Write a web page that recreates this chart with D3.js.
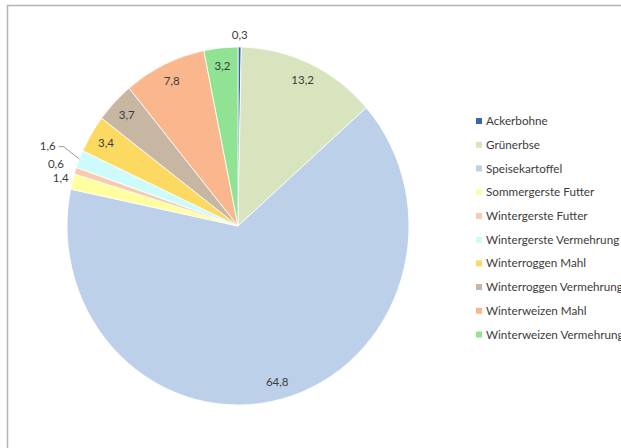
<!DOCTYPE html>
<html>
<head>
<meta charset="utf-8">
<script src="https://cdn.jsdelivr.net/npm/d3@7"></script>
<style>
  html, body { margin: 0; padding: 0; background: #fff; }
  svg { display: block; }
  text { font-family: Lato, "Open Sans", sans-serif; fill: #3c3c3c; }
</style>
</head>
<body>
<svg id="chart" width="621" height="448"></svg>
<script>
// Anbauanteile in Prozent
const categories = [
  "Ackerbohne", "Grünerbse", "Speisekartoffel", "Sommergerste Futter",
  "Wintergerste Futter", "Wintergerste Vermehrung", "Winterroggen Mahl",
  "Winterroggen Vermehrung", "Winterweizen Mahl", "Winterweizen Vermehrung"
];
const values = [0.3, 13.2, 64.8, 1.4, 0.6, 1.6, 3.4, 3.7, 7.8, 3.2];
const colors = [
  "#3a66ad", "#d7e4bd", "#bcd0ea", "#ffffa0", "#f8cbad",
  "#cdfafa", "#fcd960", "#c6b6a2", "#fab68d", "#8fe393"
];

const svg = d3.select("#chart");
const fmt = v => d3.format(".1f")(v).replace(".", ",");

// Rahmen der Diagrammfläche
svg.append("rect")
  .attr("x", 7.5).attr("y", 5.5)
  .attr("width", 700).attr("height", 500)
  .attr("fill", "none").attr("stroke", "#b4b4b4").attr("stroke-width", 1.5);

// Kreis leicht vertikal gestreckt
const cx = 238, cy = 226, rx = 171, ry = 179;
const sy = ry / rx;

const pie = d3.pie().sort(null).value(d => d)(values);
const arc = d3.arc().innerRadius(0).outerRadius(rx);

const g = svg.append("g").attr("transform", `translate(${cx},${cy})`);

g.append("g").attr("transform", `scale(1,${sy})`)
  .selectAll("path").data(pie).join("path")
  .attr("d", arc)
  .attr("fill", (d, i) => colors[i])
  .attr("stroke", "#fff").attr("stroke-width", 0.8)
  .attr("vector-effect", "non-scaling-stroke");

// Punkt auf dem (gestreckten) Kreis für Winkel a und Radiusfaktor f
const at = (a, f) => [Math.sin(a) * rx * f, -Math.cos(a) * ry * f];

// Beschriftung: große Segmente innen, kleine außen
let outsideRank = 0;
const labels = pie.map((d, i) => {
  const mid = (d.startAngle + d.endAngle) / 2;
  if (d.value >= 3) return { i, pos: at(mid, 0.9), leader: null };
  let f;
  if (mid < Math.PI) { f = 1.065; }
  else { f = 1.07 + outsideRank * 0.05 + (outsideRank > 1 ? 0.03 : 0); outsideRank++; }
  const pos = at(mid, f);
  let leader = null;
  if (f > 1.15) {
    const edge = at(mid, 1.0);
    leader = [[pos[0] + 11, pos[1] + 1], [pos[0] + 16, pos[1] + 1], edge];
  }
  return { i, pos, leader };
});

g.selectAll("path.leader").data(labels.filter(l => l.leader)).join("path")
  .attr("class", "leader")
  .attr("d", l => d3.line()(l.leader))
  .attr("fill", "none").attr("stroke", "#7f7f7f").attr("stroke-width", 0.8);

g.selectAll("text.val").data(labels).join("text")
  .attr("class", "val")
  .attr("x", l => l.pos[0]).attr("y", l => l.pos[1])
  .attr("dy", "0.35em")
  .attr("text-anchor", "middle")
  .style("font-size", "11.5px")
  .text(l => fmt(values[l.i]));

// Legende
const legend = svg.append("g").attr("transform", "translate(476,121)");
const ly = d3.scalePoint().domain(categories).range([0, 213.5]);
const items = legend.selectAll("g").data(categories).join("g")
  .attr("transform", d => `translate(0,${ly(d)})`);
items.append("rect")
  .attr("x", 0).attr("y", -3).attr("width", 6).attr("height", 6)
  .attr("fill", (d, i) => colors[i]);
items.append("text")
  .attr("x", 10).attr("y", 0).attr("dy", "0.35em")
  .style("font-size", "11.7px")
  .text(d => d);
</script>
</body>
</html>
